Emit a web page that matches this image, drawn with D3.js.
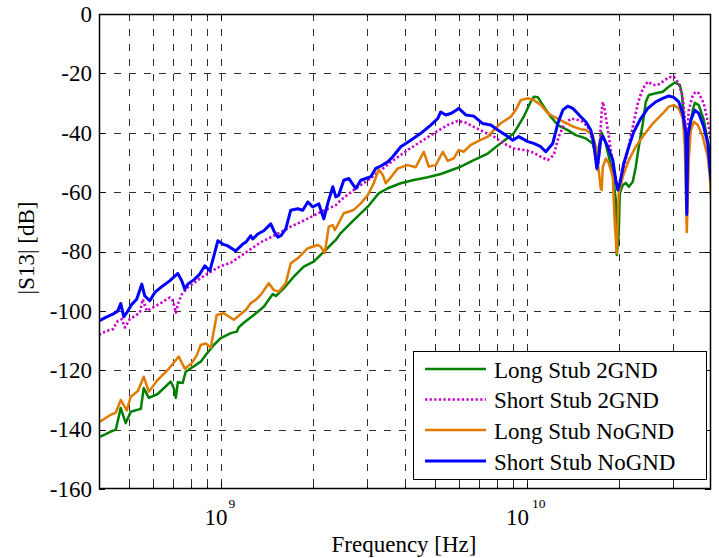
<!DOCTYPE html>
<html>
<head>
<meta charset="utf-8">
<script src="https://cdn.jsdelivr.net/npm/d3@7"></script>
<style>
  body { margin: 0; background: #fff; }
  svg text { font-family: "Liberation Serif", "Times New Roman", Times, serif; fill: #000; }
</style>
</head>
<body>
<svg id="chart" width="719" height="558"></svg>
<script>
// |S13| versus frequency for four stub / ground configurations.
// Each series is a list of [frequency in GHz, magnitude in dB].

const seriesNames = ["Long Stub 2GND", "Short Stub 2GND", "Long Stub NoGND", "Short Stub NoGND"];

const longStub2GND = [
  [0.400,-142.5],[0.421,-141.5],[0.437,-140.7],[0.454,-140.0],[0.471,-132.7],[0.489,-137.8],[0.508,-134.0],
  [0.548,-133.0],[0.560,-126.0],[0.582,-129.3],[0.622,-128.0],[0.686,-123.8],[0.702,-126.0],[0.713,-129.3],
  [0.724,-124.0],[0.751,-124.3],[0.768,-120.5],[0.810,-118.9],[0.860,-117.1],[0.893,-114.9],[0.949,-111.5],
  [1.000,-109.2],[1.078,-107.5],[1.128,-107.0],[1.145,-105.5],[1.189,-104.0],[1.282,-101.4],[1.382,-98.6],
  [1.479,-94.3],[1.513,-95.0],[1.606,-92.4],[1.732,-88.5],[1.867,-85.1],[2.013,-83.4],[2.171,-80.1],
  [2.376,-76.1],[2.467,-73.8],[2.720,-69.4],[3.023,-64.9],[3.283,-60.4],[3.514,-58.7],[3.875,-57.0],
  [4.273,-55.9],[4.747,-55.0],[5.235,-53.9],[5.773,-52.3],[6.085,-51.4],[6.711,-49.2],[7.456,-47.0],
  [8.223,-43.5],[9.068,-40.2],[9.776,-34.6],[10.31,-29.5],[10.54,-27.9],[10.86,-28.0],[11.37,-31.2],
  [11.98,-34.6],[12.63,-37.4],[13.61,-39.1],[14.46,-40.8],[15.59,-41.9],[16.43,-43.6],[16.81,-48.1],
  [17.06,-52.6],[17.19,-44.7],[17.58,-40.0],[17.99,-42.5],[18.54,-48.1],[19.10,-53.7],[19.54,-62.7],
  [19.69,-81.2],[19.98,-74.0],[20.14,-60.4],[20.60,-57.6],[21.07,-56.9],[21.55,-58.2],[22.20,-56.5],
  [22.71,-51.5],[23.23,-44.7],[23.94,-36.9],[24.49,-29.6],[25.05,-27.3],[26.40,-26.7],[27.83,-26.2],
  [29.11,-24.5],[30.46,-23.1],[31.63,-23.9],[32.11,-26.7],[32.59,-34.6],[33.09,-41.3],[33.34,-47.0],
  [33.84,-40.2],[34.88,-32.4],[35.41,-29.9],[36.49,-30.7],[37.89,-35.7],[39.34,-44.7],[40.00,-49.2]
];

const shortStub2GND = [
  [0.400,-108.1],[0.424,-106.7],[0.444,-106.2],[0.461,-103.4],[0.475,-102.8],[0.486,-105.6],[0.504,-102.8],
  [0.524,-101.7],[0.544,-100.6],[0.556,-96.1],[0.573,-100.0],[0.599,-98.9],[0.641,-97.2],[0.681,-95.5],
  [0.697,-96.6],[0.713,-100.6],[0.724,-97.8],[0.746,-94.4],[0.780,-92.1],[0.835,-89.9],[0.900,-87.6],
  [0.956,-86.0],[1.000,-84.9],[1.078,-83.8],[1.162,-81.5],[1.253,-79.2],[1.351,-76.9],[1.457,-75.2],
  [1.571,-73.5],[1.693,-71.6],[1.826,-70.1],[1.968,-68.4],[2.122,-66.7],[2.376,-64.4],[2.467,-62.7],
  [2.720,-59.3],[3.023,-56.0],[3.333,-52.6],[3.676,-49.2],[4.084,-45.8],[4.504,-43.0],[4.967,-40.2],
  [5.518,-37.4],[5.950,-36.0],[6.319,-36.6],[6.711,-38.0],[7.235,-39.7],[7.801,-41.3],[8.410,-43.6],
  [9.068,-45.3],[9.776,-45.8],[10.54,-46.7],[11.11,-48.1],[11.71,-49.2],[12.25,-47.5],[12.72,-41.3],
  [13.21,-37.4],[13.93,-35.2],[14.68,-35.7],[15.24,-36.3],[15.83,-38.0],[16.43,-42.5],[16.81,-48.1],
  [17.06,-52.6],[17.32,-43.6],[17.58,-32.4],[17.72,-29.6],[17.99,-32.4],[18.40,-39.1],[18.82,-45.8],
  [19.25,-52.6],[19.84,-58.2],[19.98,-59.3],[20.60,-53.7],[21.39,-45.8],[22.20,-38.0],[23.06,-30.1],
  [23.94,-25.1],[24.86,-22.8],[25.81,-23.9],[26.80,-23.9],[27.83,-22.8],[29.11,-21.3],[30.23,-21.1],
  [31.39,-23.4],[32.35,-27.9],[32.84,-35.7],[33.34,-42.0],[33.84,-32.4],[34.88,-27.3],[35.67,-26.2],
  [36.49,-26.7],[37.89,-30.1],[39.34,-38.0],[40.00,-43.0]
];

const longStubNoGND = [
  [0.400,-137.5],[0.437,-135.0],[0.454,-134.3],[0.471,-130.0],[0.493,-133.5],[0.508,-128.9],[0.536,-127.0],
  [0.560,-122.2],[0.582,-127.2],[0.618,-123.6],[0.671,-119.9],[0.729,-115.4],[0.763,-119.5],[0.804,-117.6],
  [0.835,-114.9],[0.860,-111.5],[0.893,-111.0],[0.928,-112.3],[0.970,-101.4],[1.023,-100.8],[1.103,-103.0],
  [1.207,-99.7],[1.253,-97.4],[1.301,-96.3],[1.351,-94.6],[1.435,-90.7],[1.490,-93.0],[1.547,-93.5],
  [1.631,-90.7],[1.693,-84.0],[1.785,-82.3],[1.925,-78.9],[2.075,-77.8],[2.122,-78.4],[2.187,-80.5],
  [2.254,-71.6],[2.323,-71.1],[2.358,-72.8],[2.412,-71.0],[2.523,-67.1],[2.720,-66.0],[2.868,-63.8],
  [3.023,-61.0],[3.162,-57.0],[3.283,-52.3],[3.384,-54.2],[3.461,-57.0],[3.540,-55.9],[3.788,-52.0],
  [4.084,-50.9],[4.338,-51.6],[4.607,-46.4],[4.783,-51.4],[5.042,-50.9],[5.315,-46.4],[5.518,-49.5],
  [5.773,-48.6],[5.995,-45.8],[6.224,-46.4],[6.561,-44.1],[7.074,-42.4],[7.456,-41.3],[7.801,-39.1],
  [8.223,-36.8],[8.865,-34.6],[9.205,-32.3],[9.558,-29.0],[10.08,-28.4],[10.54,-29.0],[11.11,-30.6],
  [11.71,-33.4],[12.25,-34.6],[13.21,-36.3],[14.24,-38.0],[15.01,-38.8],[15.59,-39.1],[16.43,-40.8],
  [16.81,-44.7],[16.94,-50.3],[17.19,-52.6],[17.45,-58.8],[17.58,-59.3],[17.72,-51.5],[18.12,-48.7],
  [18.54,-50.3],[19.10,-54.8],[19.39,-70.6],[19.69,-80.7],[19.84,-69.4],[19.98,-60.4],[20.60,-54.8],
  [21.55,-49.2],[22.71,-44.7],[23.94,-41.3],[25.81,-36.9],[27.83,-33.5],[29.11,-31.2],[30.23,-30.7],
  [31.39,-31.8],[32.35,-35.2],[32.84,-44.7],[33.34,-73.4],[33.84,-49.2],[34.36,-39.1],[35.14,-36.3],
  [36.21,-37.4],[37.60,-41.3],[39.04,-48.1],[39.64,-54.8],[40.00,-61.6]
];

const shortStubNoGND = [
  [0.400,-103.4],[0.424,-102.0],[0.444,-101.1],[0.461,-100.0],[0.471,-97.5],[0.482,-102.0],[0.493,-100.6],
  [0.512,-97.8],[0.531,-96.1],[0.552,-91.0],[0.564,-94.9],[0.586,-96.6],[0.609,-93.8],[0.646,-91.6],
  [0.681,-89.9],[0.724,-87.4],[0.746,-89.9],[0.763,-92.7],[0.780,-91.0],[0.822,-89.3],[0.854,-87.6],
  [0.887,-84.8],[0.921,-86.5],[0.956,-80.3],[0.978,-76.4],[1.015,-77.5],[1.054,-78.1],[1.119,-79.8],
  [1.180,-77.5],[1.207,-76.9],[1.253,-74.7],[1.272,-75.8],[1.321,-74.1],[1.382,-73.0],[1.457,-70.7],
  [1.490,-73.0],[1.536,-75.2],[1.571,-74.7],[1.631,-72.4],[1.693,-66.1],[1.785,-65.6],[1.853,-66.1],
  [1.925,-63.3],[1.998,-65.0],[2.091,-63.9],[2.171,-69.0],[2.237,-63.8],[2.323,-58.2],[2.376,-61.6],
  [2.430,-61.0],[2.523,-56.0],[2.620,-55.4],[2.762,-58.8],[2.868,-56.0],[2.977,-55.4],[3.092,-54.8],
  [3.210,-52.0],[3.333,-51.2],[3.514,-49.8],[3.648,-48.1],[3.875,-44.7],[4.177,-42.5],[4.504,-40.2],
  [4.856,-37.4],[5.118,-35.2],[5.235,-33.0],[5.436,-34.0],[5.644,-33.5],[5.773,-32.9],[5.995,-31.8],
  [6.319,-34.0],[6.711,-34.4],[7.181,-36.9],[7.627,-37.4],[8.039,-39.1],[8.538,-40.8],[9.000,-42.5],
  [9.415,-41.3],[10.08,-43.0],[10.54,-43.6],[11.11,-44.7],[11.54,-46.4],[12.16,-43.6],[12.63,-36.9],
  [13.11,-32.4],[13.61,-31.0],[14.14,-31.8],[14.68,-33.5],[15.01,-34.6],[15.59,-36.3],[16.19,-39.1],
  [16.56,-43.6],[16.94,-52.0],[17.19,-48.1],[17.45,-42.5],[17.72,-41.3],[18.40,-44.7],[19.10,-49.2],
  [19.54,-56.0],[19.84,-59.3],[20.14,-57.1],[20.75,-50.3],[21.55,-44.7],[22.37,-39.7],[23.58,-35.2],
  [24.86,-31.8],[26.40,-29.6],[27.83,-28.4],[29.11,-27.6],[30.23,-28.1],[31.39,-29.6],[32.35,-33.5],
  [33.09,-40.2],[33.34,-67.5],[33.59,-41.3],[34.36,-35.7],[35.41,-32.4],[36.49,-33.5],[37.89,-38.0],
  [39.04,-43.6],[39.64,-51.5],[40.00,-56.0]
];

// Axis definitions
const freqRangeHz = [4e8, 4e10];
const dbRange = [-160, 0];
const dbTicks = [-160, -140, -120, -100, -80, -60, -40, -20, 0];
const decadeTicks = [1e9, 1e10];
const decadeExponents = ["9", "10"];
const minorGridHz = [5e8, 6e8, 7e8, 8e8, 9e8, 2e9, 3e9, 4e9, 5e9, 6e9, 7e9, 8e9, 9e9, 2e10, 3e10];

const serif = "'Liberation Serif', 'Times New Roman', Times, serif";

const svg = d3.select("#chart");
const margin = { left: 99, top: 14, right: 8, bottom: 69 };
const W = 719, H = 558;
const x0 = margin.left, x1 = W - margin.right, y0 = margin.top, y1 = H - margin.bottom;

const x = d3.scaleLog().domain(freqRangeHz).range([x0, x1]);
const y = d3.scaleLinear().domain(dbRange).range([y1, y0]);

svg.append("rect").attr("width", W).attr("height", H).attr("fill", "#fff");

// Dashed grid
const grid = svg.append("g").attr("stroke", "#2e2e2e").attr("stroke-width", 1)
  .attr("stroke-dasharray", "7,8").attr("fill", "none");
decadeTicks.concat(minorGridHz).forEach(f => {
  const px = Math.round(x(f)) + 0.5;
  grid.append("line").attr("x1", px).attr("x2", px).attr("y1", y0).attr("y2", y1);
});
dbTicks.filter(d => d > dbRange[0] && d < dbRange[1]).forEach(d => {
  const py = Math.round(y(d)) + 0.5;
  grid.append("line").attr("x1", x0).attr("x2", x1).attr("y1", py).attr("y2", py);
});

// Inward ticks on all four sides
const ticks = svg.append("g").attr("stroke", "#000").attr("stroke-width", 1);
dbTicks.forEach(d => {
  const py = Math.round(y(d)) + 0.5;
  ticks.append("line").attr("x1", x0).attr("x2", x0 + 6).attr("y1", py).attr("y2", py);
  ticks.append("line").attr("x1", x1).attr("x2", x1 - 6).attr("y1", py).attr("y2", py);
});
decadeTicks.forEach(f => {
  const px = Math.round(x(f)) + 0.5;
  ticks.append("line").attr("x1", px).attr("x2", px).attr("y1", y1).attr("y2", y1 - 6);
  ticks.append("line").attr("x1", px).attr("x2", px).attr("y1", y0).attr("y2", y0 + 6);
});
minorGridHz.forEach(f => {
  const px = Math.round(x(f)) + 0.5;
  ticks.append("line").attr("x1", px).attr("x2", px).attr("y1", y1).attr("y2", y1 - 3);
  ticks.append("line").attr("x1", px).attr("x2", px).attr("y1", y0).attr("y2", y0 + 3);
});

// Y tick labels
svg.append("g").selectAll("text").data(dbTicks).join("text")
  .attr("x", x0 - 7).attr("y", d => y(d)).attr("dy", "0.34em")
  .attr("text-anchor", "end").attr("font-size", 23).attr("font-family", serif)
  .text(d => String(d));

// X decade labels as 10^n
decadeTicks.forEach((f, i) => {
  const t = svg.append("text").attr("x", x(f) - 1).attr("y", 525)
    .attr("text-anchor", "middle").attr("font-size", 23).attr("font-family", serif);
  t.append("tspan").text("10");
  t.append("tspan").attr("font-size", 13.5).attr("dx", i === 0 ? 1 : 3).attr("dy", -17.5)
    .text(decadeExponents[i]);
});

// Axis titles
svg.append("text").attr("x", 404).attr("y", 552).attr("text-anchor", "middle")
  .attr("font-size", 23).attr("font-family", serif).text("Frequency [Hz]");
svg.append("text").attr("transform", "translate(34,248) rotate(-90)")
  .attr("text-anchor", "middle").attr("font-size", 23).attr("font-family", serif).text("|S13| [dB]");

// Curves
svg.append("clipPath").attr("id", "plotClip").append("rect")
  .attr("x", x0).attr("y", y0).attr("width", x1 - x0).attr("height", y1 - y0);

const line = d3.line().x(d => x(d[0] * 1e9)).y(d => y(d[1]));
const seriesData = [longStub2GND, shortStub2GND, longStubNoGND, shortStubNoGND];
const styles = [
  { color: "#008000", width: 2.5, dash: null },
  { color: "#cc00cc", width: 2.6, dash: "2.3,2.3" },
  { color: "#e07b00", width: 2.5, dash: null },
  { color: "#0000ff", width: 3, dash: null }
];

const curves = svg.append("g").attr("clip-path", "url(#plotClip)");
seriesData.forEach((s, i) => {
  curves.append("path").datum(s)
    .attr("fill", "none")
    .attr("stroke", styles[i].color)
    .attr("stroke-width", styles[i].width)
    .attr("stroke-linejoin", "round")
    .attr("stroke-dasharray", styles[i].dash)
    .attr("d", line);
});

// Plot frame
svg.append("rect").attr("x", x0 + 0.5).attr("y", y0 + 0.5)
  .attr("width", x1 - x0 - 1).attr("height", y1 - y0 - 1)
  .attr("fill", "none").attr("stroke", "#000").attr("stroke-width", 1.5);

// Legend
const lg = svg.append("g");
lg.append("rect").attr("x", 413.5).attr("y", 351.5).attr("width", 293).attr("height", 128)
  .attr("fill", "#fff").attr("stroke", "#000").attr("stroke-width", 1);
const rowY = [369, 399.5, 430, 461];
seriesNames.forEach((name, i) => {
  lg.append("line").attr("x1", 425).attr("x2", 486).attr("y1", rowY[i]).attr("y2", rowY[i])
    .attr("stroke", styles[i].color).attr("stroke-width", styles[i].width)
    .attr("stroke-dasharray", styles[i].dash);
  lg.append("text").attr("x", 494).attr("y", rowY[i] + 8.5).attr("font-size", 23)
    .attr("font-family", serif).text(name);
});
</script>
</body>
</html>
